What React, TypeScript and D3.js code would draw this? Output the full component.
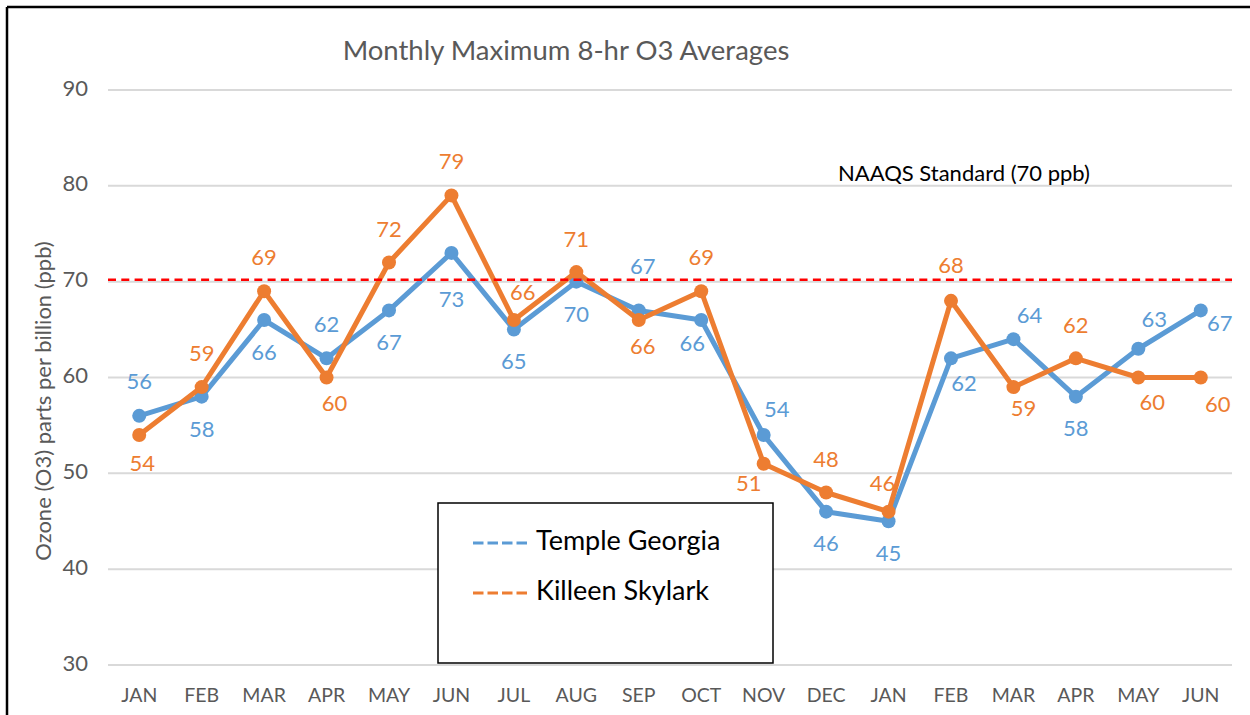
import React from "react";
import * as d3 from "d3";

const months = ["JAN","FEB","MAR","APR","MAY","JUN","JUL","AUG","SEP","OCT","NOV","DEC","JAN","FEB","MAR","APR","MAY","JUN"];
const templeGeorgia = [56,58,66,62,67,73,65,70,67,66,54,46,45,62,64,58,63,67];
const killeenSkylark = [54,59,69,60,72,79,66,71,66,69,51,48,46,68,59,62,60,60];
const yTicks = [30,40,50,60,70,80,90];
const naaqs = 70.2;

// label offsets (px) relative to point, per series
const templeLabelDx = [0,0,0,0,0,0,0,0,4,-9,13,0,0,13,16,0,16,19];
const templeLabelDy = [-32,35,34,-32,34,49,34,35,-42,25,-24,34,34,27,-22,34,-27,15];
const killeenLabelDx = [3,0,0,8,0,0,9,0,4,0,-15,0,-6,0,10,0,14,17];
const killeenLabelDy = [30,-32,-32,28,-31,-32,-26,-31,28,-32,22,-31,-26,-33,23,-31,27,29];

const W = 1250, H = 715;
const BLUE = "#5B9BD5";
const ORANGE = "#ED7D31";
const GRAY = "#595959";
const FONT = "Lato, 'Open Sans', sans-serif";

export default function App() {
  const x = d3.scaleBand<number>().domain(d3.range(months.length)).range([108, 1232]);
  const cx = (i: number) => (x(i) as number) + x.bandwidth() / 2;
  const y = d3.scaleLinear().domain([30, 90]).range([665, 90]);
  const line = d3.line<number>().x((_, i) => cx(i)).y((d) => y(d));

  const series = [
    { name: "Temple Georgia", data: templeGeorgia, color: BLUE, dx: templeLabelDx, dy: templeLabelDy },
    { name: "Killeen Skylark", data: killeenSkylark, color: ORANGE, dx: killeenLabelDx, dy: killeenLabelDy },
  ];

  return (
    <svg width={W} height={H} style={{ position: "absolute", left: 0, top: 0, background: "#fff" }} fontFamily={FONT}>
      <rect x={0} y={0} width={W} height={H} fill="#fff" />
      {/* outer border */}
      <line x1={7} y1={7} x2={W} y2={7} stroke="#000" strokeWidth={2.5} />
      <line x1={7} y1={7} x2={7} y2={H} stroke="#000" strokeWidth={2.5} />

      <text x={566} y={53} textAnchor="middle" dominantBaseline="middle" fontSize={27.5} fill={GRAY}>
        Monthly Maximum 8-hr O3 Averages
      </text>

      {/* gridlines */}
      {yTicks.map((t) => (
        <g key={t}>
          <line x1={108} x2={1232} y1={y(t)} y2={y(t)} stroke="#D9D9D9" strokeWidth={2} />
          <text x={88} y={y(t)} textAnchor="end" dominantBaseline="middle" fontSize={22} fill={GRAY}>
            {t}
          </text>
        </g>
      ))}

      {/* x labels */}
      {months.map((m, i) => (
        <text key={i} x={cx(i)} y={697} textAnchor="middle" dominantBaseline="middle" fontSize={19.5} fill={GRAY}>
          {m}
        </text>
      ))}

      {/* y axis title */}
      <text
        transform={`translate(45,401) rotate(-90)`}
        textAnchor="middle"
        dominantBaseline="middle"
        fontSize={22}
        fill={GRAY}
      >
        Ozone (O3) parts per billion (ppb)
      </text>

      {/* series */}
      {series.map((s) => (
        <g key={s.name}>
          <path d={line(s.data) as string} fill="none" stroke={s.color} strokeWidth={5} strokeLinejoin="round" />
          {s.data.map((v, i) => (
            <circle key={i} cx={cx(i)} cy={y(v)} r={7} fill={s.color} />
          ))}
        </g>
      ))}

      {/* NAAQS line */}
      <line x1={108} x2={1232} y1={y(naaqs)} y2={y(naaqs)} stroke="#FF0000" strokeWidth={2.5} strokeDasharray="8,5.3" />
      <text x={838} y={175} dominantBaseline="middle" fontSize={22} fill="#000">
        NAAQS Standard (70 ppb)
      </text>

      {/* data labels */}
      {series.map((s) => (
        <g key={s.name + "-labels"}>
          {s.data.map((v, i) => (
            <text
              key={i}
              x={cx(i) + s.dx[i]}
              y={y(v) + s.dy[i]}
              textAnchor="middle"
              dominantBaseline="middle"
              fontSize={22}
              fill={s.color}
            >
              {v}
            </text>
          ))}
        </g>
      ))}

      {/* legend */}
      <rect x={438} y={503} width={335} height={160} fill="#fff" stroke="#000" strokeWidth={1.5} />
      {series.map((s, i) => (
        <g key={s.name + "-legend"}>
          <line x1={473} x2={527} y1={543 + i * 50} y2={543 + i * 50} stroke={s.color} strokeWidth={3} strokeDasharray="10.5,4" />
          <text x={536} y={543 + i * 50} dominantBaseline="middle" fontSize={27} fill="#000">
            {s.name}
          </text>
        </g>
      ))}
    </svg>
  );
}
